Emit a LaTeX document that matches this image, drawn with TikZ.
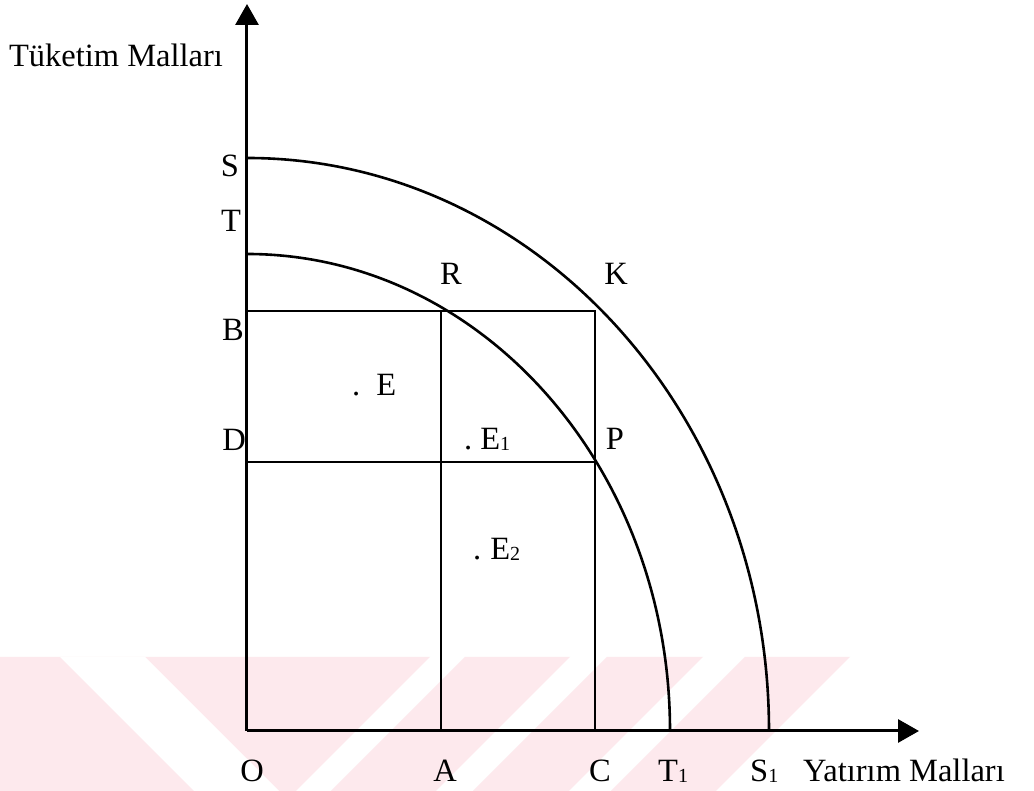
\documentclass[tikz,border=0pt]{standalone}
\usepackage{fontspec}
\setmainfont{Liberation Serif}
\usetikzlibrary{arrows.meta}
\definecolor{wmpink}{RGB}{253,233,237}
\newcommand\subn[1]{\raisebox{-1pt}{\fontsize{20}{20}\selectfont #1}}
\begin{document}
\begin{tikzpicture}[x=1pt,y=1pt,
  lbl/.style={font=\fontsize{32.5}{36}\selectfont, inner sep=0pt, anchor=base},
  ln/.style={line width=2.6pt},
  axisln/.style={line width=3pt,-{Triangle[length=21pt,width=23pt]}},
  wm/.style={fill=wmpink, draw=none}]
\useasboundingbox (-247,-60) rectangle (787,731);
\fill[white] (-247,-60) rectangle (787,731);
% faint watermark bands
\fill[wm] (-247,74) -- (183,74) -- (49,-60) -- (-247,-60) -- cycle;
\fill[white] (-187,74) -- (-102,74) -- (32,-60) -- (-53,-60) -- cycle;
\fill[wm] (218,74) -- (323,74) -- (189,-60) -- (84,-60) -- cycle;
\fill[wm] (360,74) -- (456,74) -- (322,-60) -- (226,-60) -- cycle;
\fill[wm] (498,74) -- (603,74) -- (469,-60) -- (364,-60) -- cycle;
% points
\coordinate (O) at (0,0);
\coordinate (Ytip) at (0,727);
\coordinate (Xtip) at (672,0);
\coordinate (S) at (0,573);
\coordinate (T) at (0,477);
\coordinate (B) at (0,420);
\coordinate (D) at (0,269);
\coordinate (A) at (194,0);
\coordinate (C) at (348,0);
\coordinate (R) at (194,420);
\coordinate (K) at (348,420);
\coordinate (P) at (348,269);
% rectangles
\draw[ln] (B) -- (K) -- (C);
\draw[ln] (A) -- (R);
\draw[ln] (D) -- (P);
% curves
\draw[ln] (S) arc[start angle=90,end angle=0,x radius=522pt,y radius=573pt] coordinate (S1);
\draw[ln] (T) arc[start angle=90,end angle=0,x radius=423pt,y radius=477pt] coordinate (T1);
% axes
\draw[axisln] (O) -- (Ytip);
\draw[axisln] (O) -- (Xtip);
% labels
\node[lbl] (ylab) at (-131,664) {Tüketim Malları};
\node[lbl] (lS) at (-17,554) {S};
\node[lbl] (lT) at (-16,499) {T};
\node[lbl] (lB) at (-14,390) {B};
\node[lbl] (lD) at (-13,280) {D};
\node[lbl] (lR) at (204,446) {R};
\node[lbl] (lK) at (369,446) {K};
\node[lbl] (lP) at (368,281) {P};
\node[lbl,anchor=base west] (lE) at (105,335) {.\hspace{16pt}E};
\node[lbl,anchor=base west] (lE1) at (217,281) {.\hspace{8pt}E\subn{1}};
\node[lbl,anchor=base west] (lE2) at (226,171) {.\hspace{9pt}E\subn{2}};
\node[lbl] (lO) at (5,-51) {O};
\node[lbl] (lA) at (198,-51) {A};
\node[lbl] (lC) at (353,-51) {C};
\node[lbl,anchor=base west] (lT1) at (411,-51) {T\subn{1}};
\node[lbl,anchor=base west] (lS1) at (503,-51) {S\subn{1}};
\node[lbl,anchor=base west] (lX) at (556,-51) {Yatırım Malları};
\end{tikzpicture}
\end{document}
